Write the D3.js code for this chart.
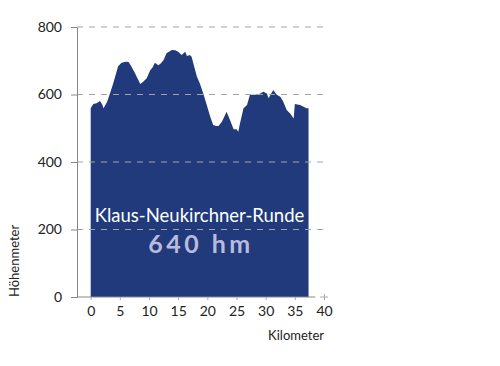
<!DOCTYPE html>
<html>
<head>
<meta charset="utf-8">
<script src="https://cdn.jsdelivr.net/npm/d3@7"></script>
<style>
	body { margin: 0; background: #fff; }
	svg text { font-family: Lato, "Noto Sans", sans-serif; }
</style>
</head>
<body>
<svg id="chart" width="500" height="366"></svg>
<script>
// distance along the route (km)
let km = [0, 0.45, 1.0, 1.6, 2.0, 2.2, 2.8, 3.3, 3.8, 4.2, 4.7, 5.3, 6.0, 6.5, 7.0, 7.6, 8.1, 8.5, 9.0, 9.6,
	10.2, 10.6, 11.0, 11.6, 12.0, 12.5, 13.0, 13.9, 14.5, 15.0, 15.6, 16.2, 16.5, 17.0, 17.3, 17.6, 18.2, 18.7, 19.3, 19.9,
	20.5, 21.0, 21.5, 21.9, 22.5, 23.3, 23.9, 24.5, 25.0, 25.3, 25.6, 26.2, 26.8, 27.3, 28.2, 29.0, 29.6, 30.2, 30.5, 31.3,
	31.9, 32.5, 33.0, 33.6, 34.2, 34.8, 35.0, 35.9, 36.5, 37.0, 37.35];
// elevation (m)
let elevation = [559, 572, 574, 581, 570, 559, 578, 603, 630, 653, 684, 694, 697, 696, 682, 663, 645, 631, 638, 648,
	672, 680, 694, 687, 692, 702, 722, 732, 731, 727, 717, 727, 714, 717, 712, 692, 653, 633, 603, 569,
	534, 510, 507, 507, 519, 549, 524, 497, 497, 490, 515, 559, 569, 599, 599, 602, 608, 603, 589, 613,
	599, 593, 579, 554, 544, 529, 572, 569, 564, 559, 559];
let xTicks = [0, 5, 10, 15, 20, 25, 30, 35, 40];
let yTicks = [0, 200, 400, 600, 800];
let routeName = 'Klaus-Neukirchner-Runde';
let climb = '640 hm';

let data = km.map((d, i) => ({ 'km': d, 'ele': elevation[i] }));

let svg = d3.select('svg#chart');
let axisX = 77; // position of the y axis line
let x = d3.scaleLinear([0, 40], [90.7, 324]);
let y = d3.scaleLinear([0, 800], [297, 27]);

// area
let area = d3.area()
	.x(d => x(d.km))
	.y0(y(0))
	.y1(d => y(d.ele));
svg.append('path')
	.datum(data)
	.attr('fill', '#203a7b')
	.attr('d', area);

// gridlines
svg.append('g').selectAll('line')
	.data(yTicks.filter(d => d > 0))
	.join('line')
	.attr('x1', axisX)
	.attr('x2', 328)
	.attr('y1', d => y(d))
	.attr('y2', d => y(d))
	.attr('stroke', '#a3a3a3')
	.attr('stroke-width', 1)
	.attr('stroke-dasharray', '6,6');

// y axis
let gy = svg.append('g')
	.attr('transform', 'translate(' + axisX + ',0)')
	.call(d3.axisLeft(y).tickValues(yTicks).tickSize(6).tickPadding(9).tickSizeOuter(0));
gy.select('.domain').attr('stroke', '#888');
gy.selectAll('.tick line').attr('stroke', '#888');
gy.selectAll('.tick text')
	.attr('font-size', 14)
	.attr('fill', '#222');

// x axis
let gx = svg.append('g')
	.attr('transform', 'translate(0,' + y(0) + ')')
	.call(d3.axisBottom(x).tickValues(xTicks).tickSize(3).tickPadding(6));
gx.select('.domain').remove();
gx.insert('line', ':first-child')
	.attr('x1', axisX)
	.attr('x2', x(38.5))
	.attr('stroke', '#888');
gx.selectAll('.tick line').attr('stroke', '#aaa').attr('y1', d => d == 40 ? -3 : 0);
gx.append('line')
	.attr('x1', x(40) - 4)
	.attr('x2', x(40) + 4)
	.attr('stroke', '#aaa');
gx.selectAll('.tick text')
	.attr('font-size', 14)
	.attr('fill', '#222');

// axis titles
svg.append('text')
	.attr('x', 324)
	.attr('y', 340)
	.attr('text-anchor', 'end')
	.attr('font-size', 13)
	.attr('fill', '#222')
	.text('Kilometer');
svg.append('text')
	.attr('transform', 'translate(19,297) rotate(-90)')
	.attr('text-anchor', 'start')
	.attr('font-size', 13)
	.attr('fill', '#222')
	.text('Höhenmeter');

// labels inside the area
svg.append('text')
	.attr('x', 199.5)
	.attr('y', 222)
	.attr('text-anchor', 'middle')
	.attr('font-size', 18.5)
	.attr('fill', '#fff')
	.text(routeName);
svg.append('text')
	.attr('x', 201)
	.attr('y', 253)
	.attr('text-anchor', 'middle')
	.attr('font-size', 25)
	.attr('font-weight', 'bold')
	.attr('letter-spacing', 3.5)
	.attr('fill', '#b8bbdb')
	.text(climb);
</script>
</body>
</html>
